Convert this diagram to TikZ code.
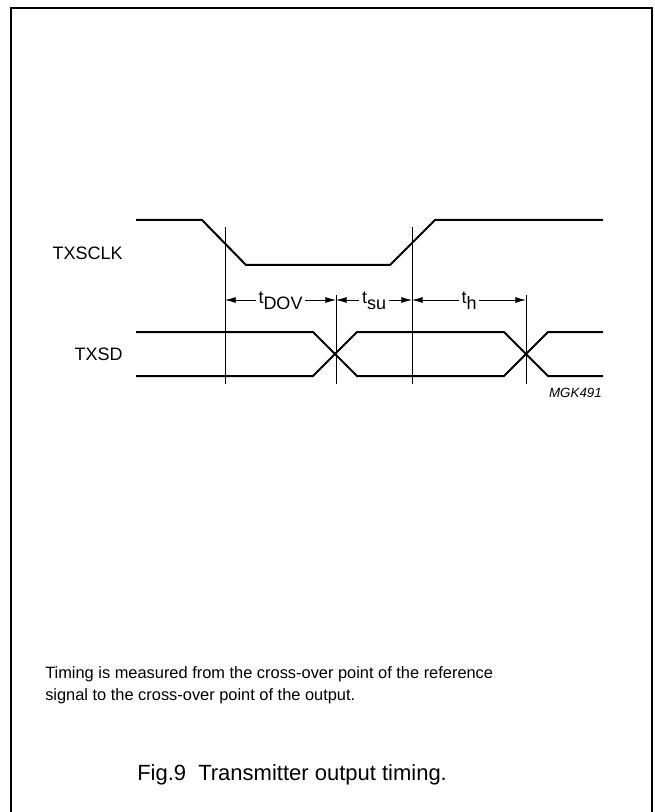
\documentclass[tikz,border=0pt]{standalone}
\usepackage{fontspec}
\setmainfont{Liberation Sans}
\usetikzlibrary{arrows.meta}

\tikzset{
  signal/.style={line width=1.5pt},
  refline/.style={line width=0.6pt},
  dimarrow/.style={line width=0.6pt,-{Latex[length=8pt,width=4.5pt]}},
  sigtext/.style={anchor=base east,inner sep=0pt,font=\fontsize{13.5}{15}\selectfont},
  timetext/.style={anchor=base,inner sep=2pt,font=\fontsize{13.5}{15}\selectfont},
}
\newcommand{\tlabel}[1]{t\raisebox{-0.35em}{#1}}

\begin{document}
\begin{tikzpicture}[x=0.75pt,y=0.75pt,yscale=-1]
\useasboundingbox (0,0) rectangle (655,812);

%frame
\draw[line width=1.5pt] (11,812) -- (11,8) -- (652,8) -- (652,812);

%TXSCLK
\draw[signal] (136,220) -- (202,220) -- (246,265) -- (390,265) -- (435,220) -- (603,220);
%TXSD
\draw[signal] (136,332) -- (313,332) -- (357,376) -- (504,376) -- (548,332) -- (603,332);
\draw[signal] (136,376) -- (313,376) -- (357,332) -- (504,332) -- (548,376) -- (603,376);

%reference lines
\coordinate (ra) at (225,300);
\coordinate (rb) at (336,300);
\coordinate (rc) at (412,300);
\coordinate (rd) at (526,300);
\draw[refline] (225,227) -- (225,384);
\draw[refline] (336,295) -- (336,384);
\draw[refline] (412,227) -- (412,384);
\draw[refline] (526,295) -- (526,384);

% Signal names
\node[sigtext] (clk) at (123,260) {TXSCLK};
\node[sigtext] (sd) at (123,360) {TXSD};
\node[anchor=base east,inner sep=0pt,font=\fontsize{10}{12}\selectfont\itshape] (code) at (602,397) {MGK491};

% Timing labels
\node[timetext] (tdov) at (280.5,303.5) {\tlabel{DOV}};
\node[timetext] (tsu) at (374,303.5) {\tlabel{su}};
\node[timetext] (th) at (469,303.5) {\tlabel{h}};
\draw[dimarrow] (tdov.west |- ra) -- (ra);
\draw[dimarrow] (tdov.east |- rb) -- (rb);
\draw[dimarrow] (tsu.west |- rb) -- (rb);
\draw[dimarrow] (tsu.east |- rc) -- (rc);
\draw[dimarrow] (th.west |- rc) -- (rc);
\draw[dimarrow] (th.east |- rd) -- (rd);

% Text Node
\node[anchor=base west,inner sep=0pt,align=left,font=\fontsize{12.3}{16.5}\selectfont] (note) at (45,700)
  {Timing is measured from the cross-over point of the reference\\signal to the cross-over point of the output.};
% Caption
\node[anchor=base west,inner sep=0pt,font=\fontsize{16.5}{19}\selectfont] (caption) at (137,780)
  {Fig.9\hspace{0.55em}Transmitter output timing.};

\end{tikzpicture}
\end{document}
